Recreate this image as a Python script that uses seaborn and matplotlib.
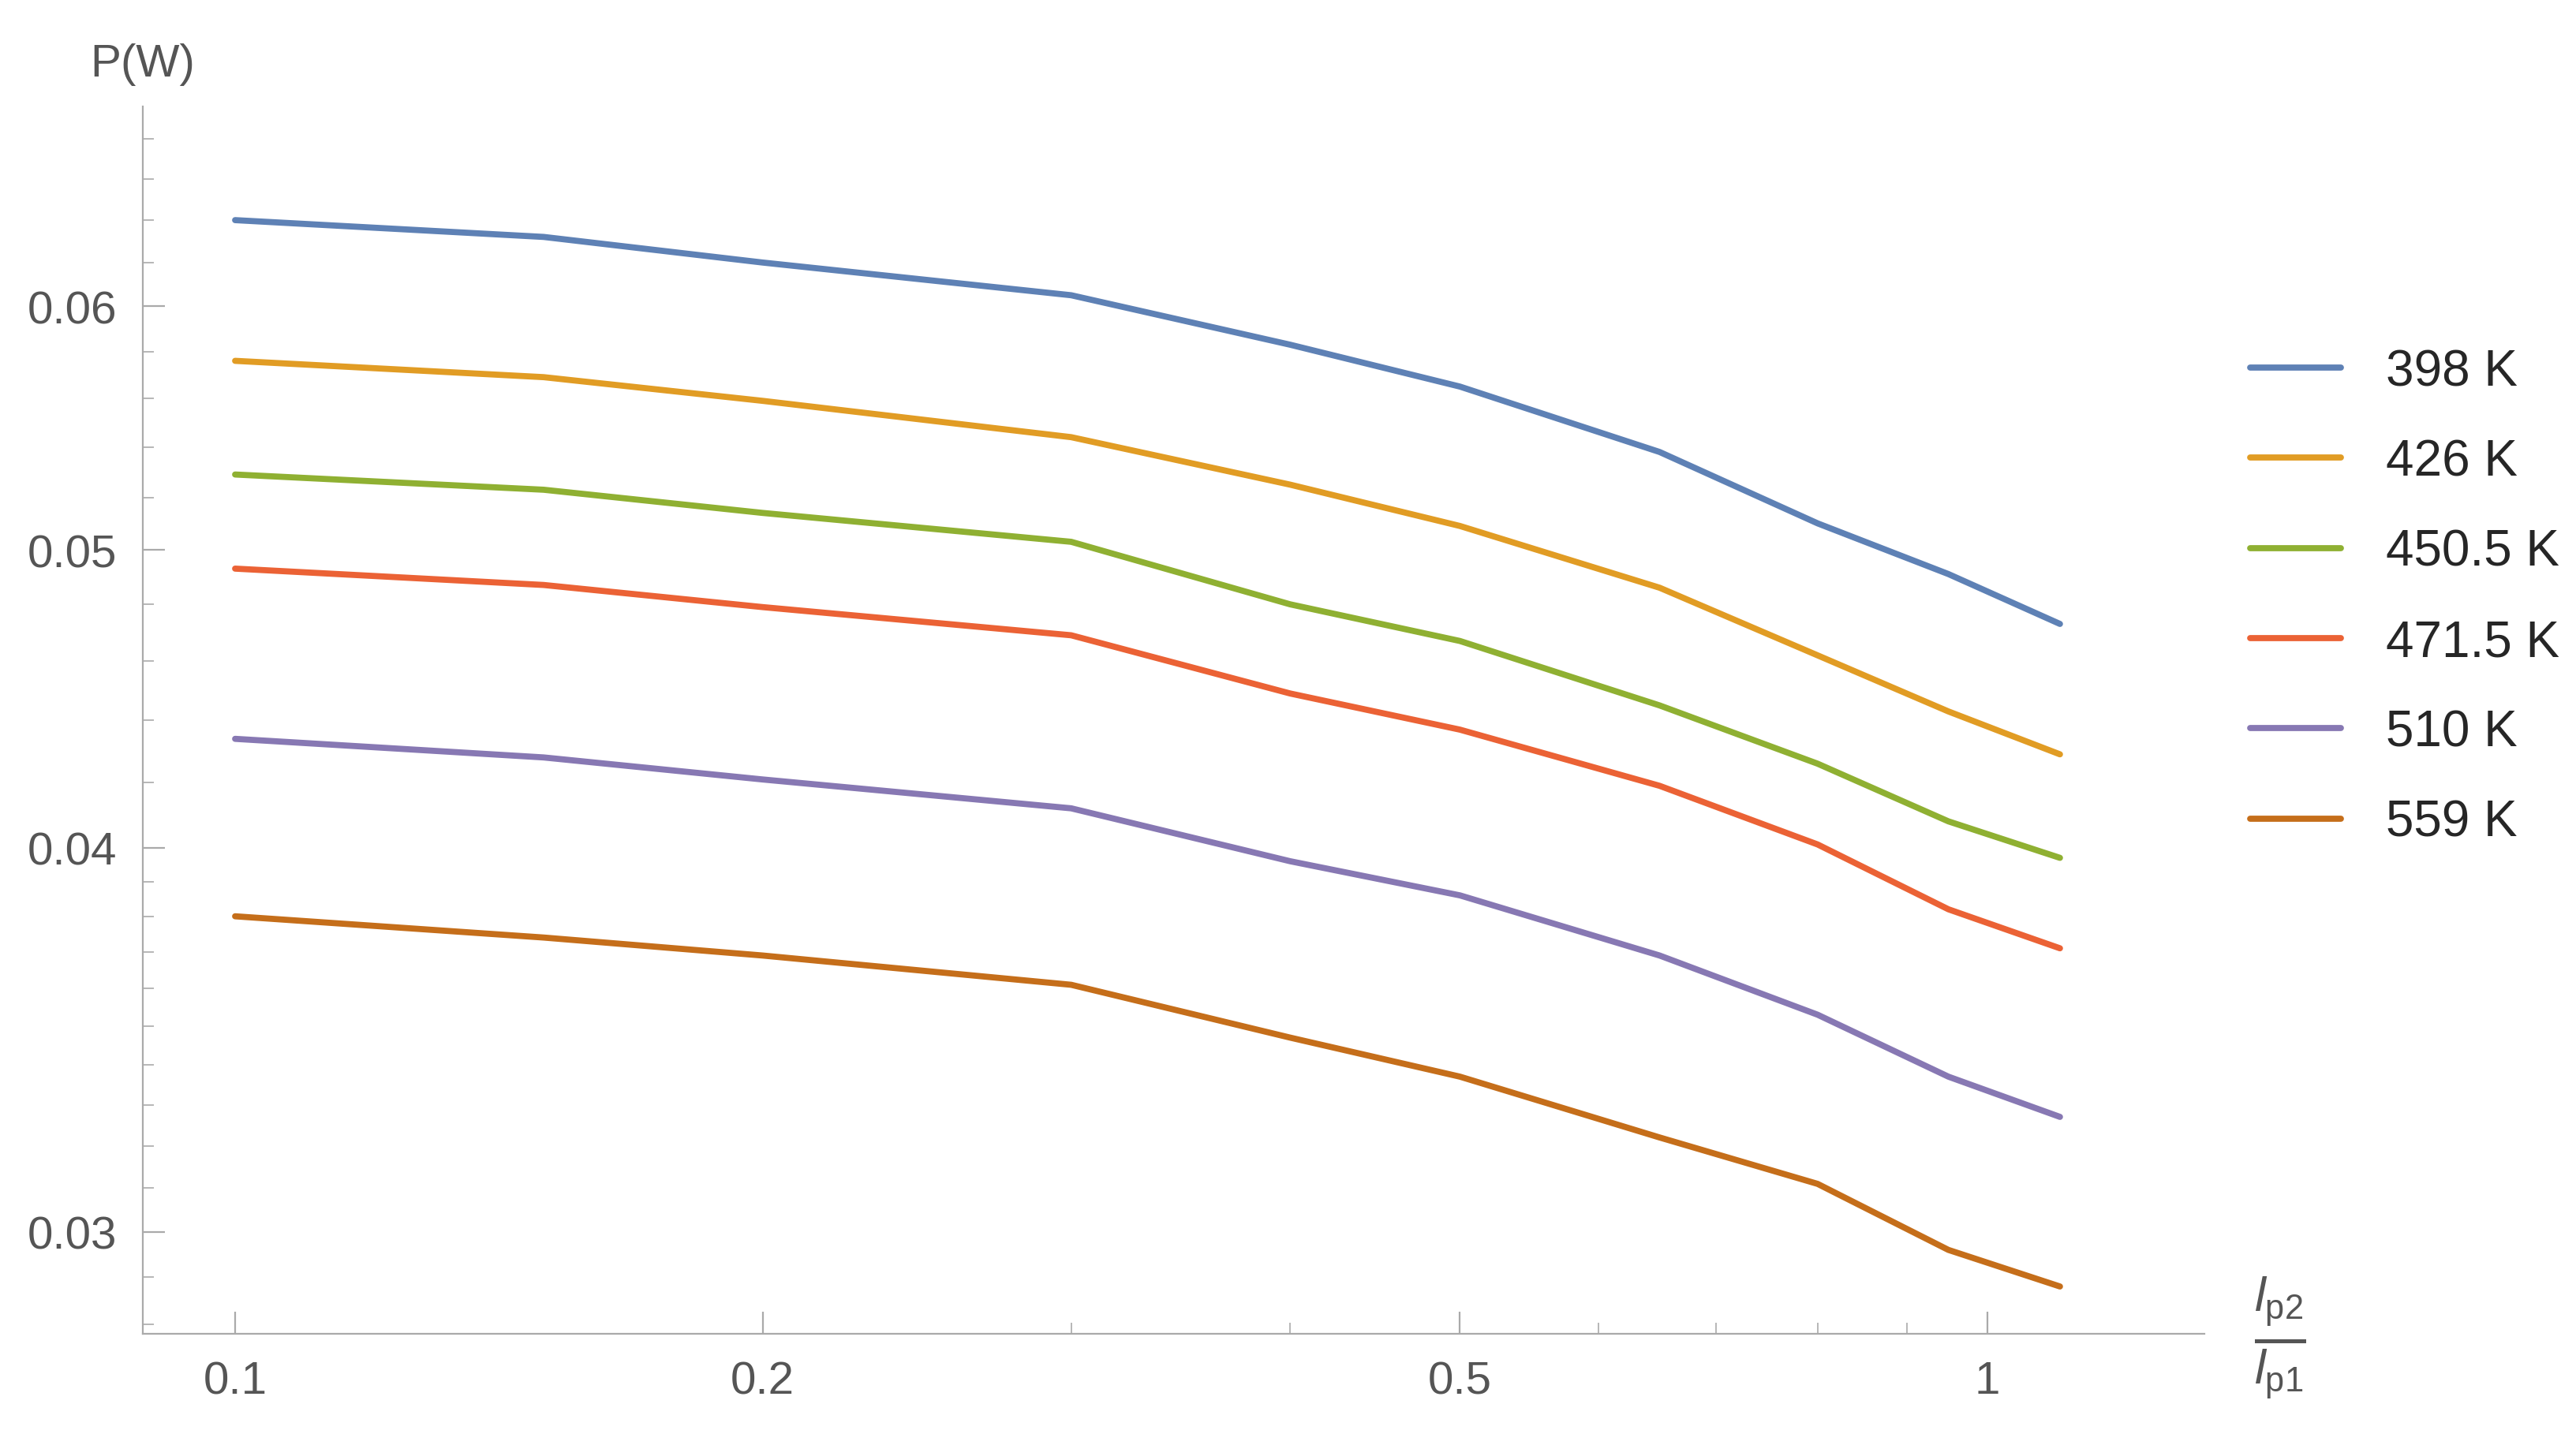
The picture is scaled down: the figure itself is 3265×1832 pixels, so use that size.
import matplotlib
matplotlib.use("Agg")
import matplotlib.pyplot as plt
import seaborn as sns
import pandas as pd
from matplotlib.ticker import FixedLocator, NullFormatter

# values
ratio = [0.1, 0.15, 0.2, 0.3, 0.4, 0.5, 0.65, 0.8, 0.95, 1.1]
p_398 = [0.0640, 0.0632, 0.0620, 0.0605, 0.0583, 0.0565, 0.0538, 0.0510, 0.0491, 0.0473]
p_426 = [0.0576, 0.0569, 0.0559, 0.0544, 0.0525, 0.0509, 0.0486, 0.0462, 0.0443, 0.0429]
p_450 = [0.0529, 0.0523, 0.0514, 0.0503, 0.0480, 0.0467, 0.0445, 0.0426, 0.0408, 0.0397]
p_471 = [0.0493, 0.0487, 0.0479, 0.0469, 0.0449, 0.0437, 0.0419, 0.0401, 0.0382, 0.0371]
p_510 = [0.0434, 0.0428, 0.0421, 0.0412, 0.0396, 0.0386, 0.0369, 0.0353, 0.0337, 0.0327]
p_559 = [0.0380, 0.0374, 0.0369, 0.0361, 0.0347, 0.0337, 0.0322, 0.0311, 0.0296, 0.0288]
labels = ["398 K", "426 K", "450.5 K", "471.5 K", "510 K", "559 K"]
colors = ["#5E81B5", "#E19C24", "#8FB032", "#EB6235", "#8778B3", "#C56E1A"]

rows = []
for lab, vals in zip(labels, [p_398, p_426, p_450, p_471, p_510, p_559]):
    for x, y in zip(ratio, vals):
        rows.append({"ratio": x, "P": y, "T": lab})
df = pd.DataFrame(rows)

sns.set_style("white")
plt.rcParams["font.family"] = ["Liberation Sans", "DejaVu Sans"]
plt.rcParams["mathtext.fontset"] = "custom"
plt.rcParams["mathtext.rm"] = "Liberation Sans"
plt.rcParams["mathtext.it"] = "Liberation Sans:italic"

fig = plt.figure(figsize=(16.33, 9.165), dpi=200)
ax = fig.add_axes([0.0555, 0.077, 0.80, 0.849])
sns.lineplot(data=df, x="ratio", y="P", hue="T", palette=colors, linewidth=2.8, ax=ax)
ax.set_xscale("log")
ax.set_yscale("log")
ax.set_xlim(0.0886, 1.33)
ax.set_ylim(0.0278, 0.0697)

for s in ["top", "right"]:
    ax.spines[s].set_visible(False)
for s in ["left", "bottom"]:
    ax.spines[s].set_color("#aaaaaa")

ax.xaxis.set_major_locator(FixedLocator([0.1, 0.2, 0.5, 1.0]))
ax.set_xticklabels(["0.1", "0.2", "0.5", "1"])
ax.xaxis.set_minor_locator(FixedLocator([0.3, 0.4, 0.6, 0.7, 0.8, 0.9]))
ax.xaxis.set_minor_formatter(NullFormatter())
ax.yaxis.set_major_locator(FixedLocator([0.03, 0.04, 0.05, 0.06]))
ax.set_yticklabels(["0.03", "0.04", "0.05", "0.06"])
ax.yaxis.set_minor_locator(FixedLocator([0.028, 0.029, 0.031, 0.032, 0.033, 0.034, 0.035, 0.036, 0.037,
                                         0.038, 0.039, 0.042, 0.044, 0.046, 0.048, 0.052, 0.054,
                                         0.056, 0.058, 0.062, 0.064, 0.066, 0.068]))
ax.yaxis.set_minor_formatter(NullFormatter())
ax.tick_params(which="major", direction="in", length=10, color="#aaaaaa", labelsize=21,
               labelcolor="#555555", pad=12, left=True, bottom=True)
ax.tick_params(which="minor", direction="in", length=5, color="#aaaaaa", left=True, bottom=True)
ax.set_xlabel("")
ax.set_ylabel("")

fig.text(0.035, 0.955, "P(W)", fontsize=21, color="#555555", va="center")
fig.text(0.885, 0.075, r"$\frac{\mathit{l}_{\mathrm{p2}}}{\mathit{l}_{\mathrm{p1}}}$", fontsize=32,
         color="#555555", ha="center", va="center")

handles, labs = ax.get_legend_handles_labels()
ax.legend(handles, labs, loc="center left", bbox_to_anchor=(1.0, 0.6), frameon=False,
          fontsize=23, handlelength=1.8, handletextpad=0.9, labelspacing=0.85)

plt.savefig("out.png", dpi=200)
